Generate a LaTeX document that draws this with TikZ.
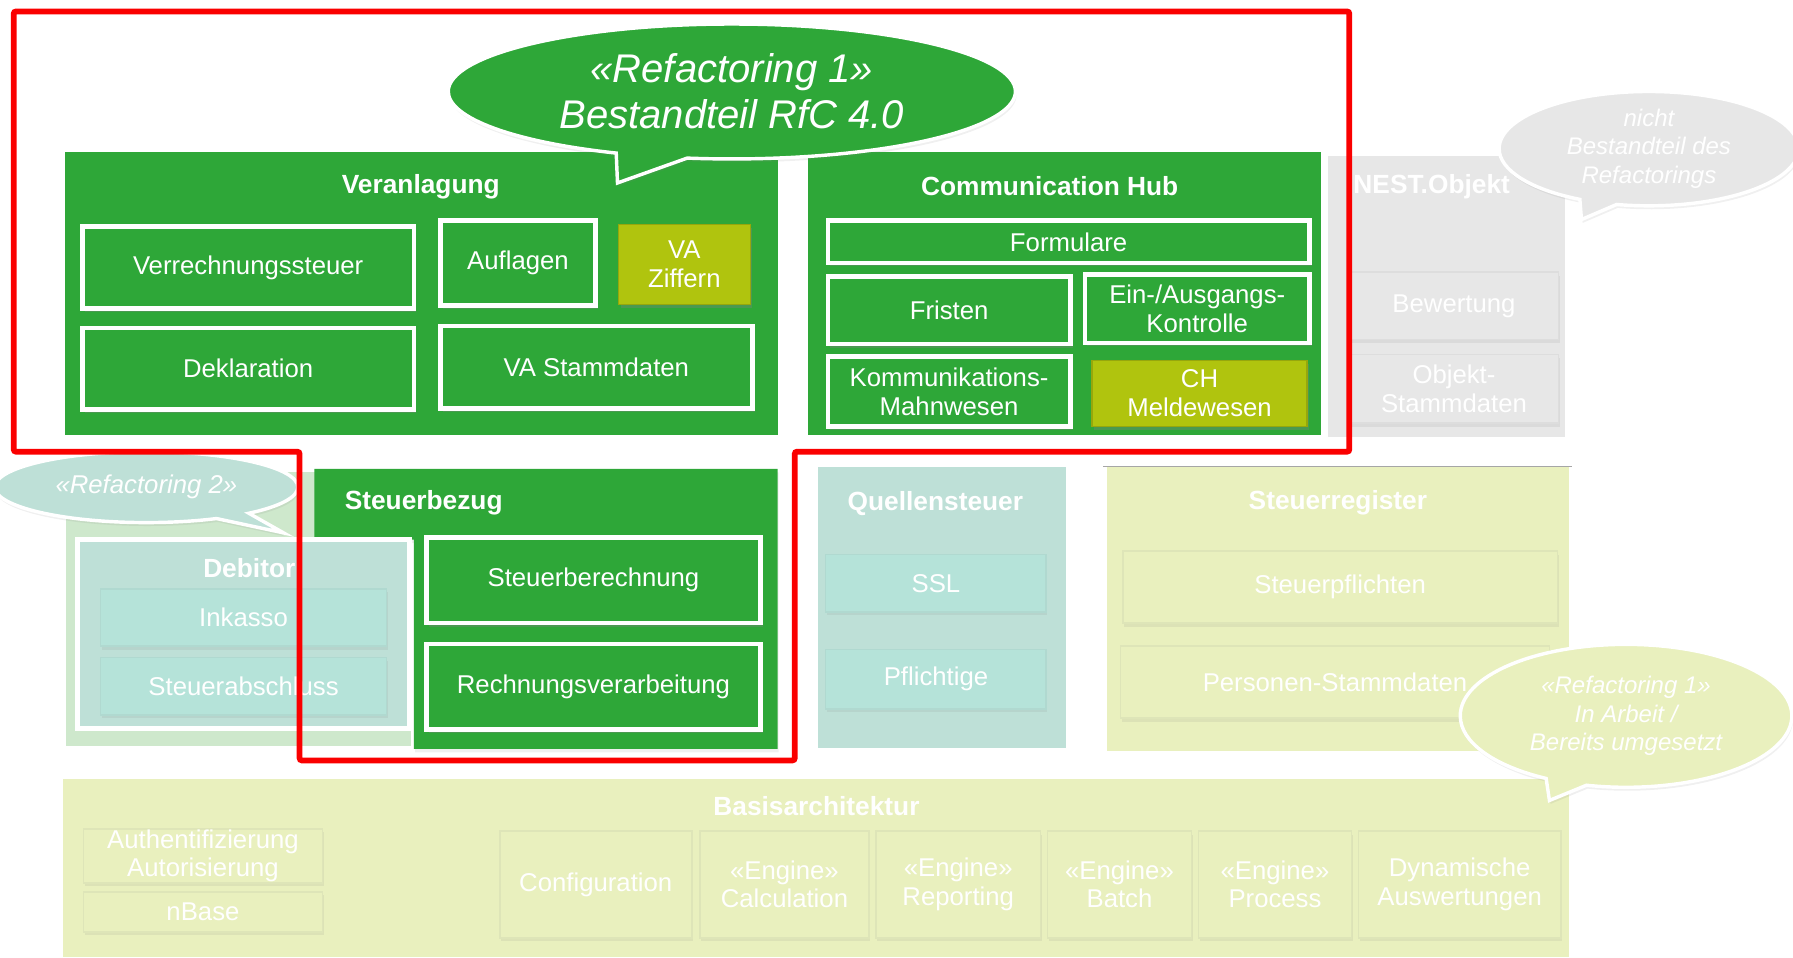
\documentclass[tikz,border=0pt]{standalone}
\usepackage{fontspec}
\setmainfont{Liberation Sans}
\usepackage{tikz}
\usetikzlibrary{shapes.callouts,shadows}

\definecolor{rfgreen}{RGB}{46,167,56}
\definecolor{rfolive}{RGB}{176,196,14}
\definecolor{rfteal}{RGB}{190,224,215}
\definecolor{rftealbox}{RGB}{181,227,217}
\definecolor{rfmint}{RGB}{206,232,204}
\definecolor{rfpale}{RGB}{233,240,190}
\definecolor{rfgrey}{RGB}{231,231,231}
\definecolor{rfred}{RGB}{250,0,0}

\tikzset{
  txt/.style={text=white, align=center, font=\fontsize{22.5}{25}\selectfont},
  ttl/.style={text=white, font=\fontsize{23}{25}\selectfont\bfseries},
  bubtxt/.style={text=white, align=center, font=\fontsize{21}{25}\selectfont\itshape},
  shade/.style={drop shadow={opacity=.35, shadow xshift=2pt, shadow yshift=-3pt}},
  softshade/.style={drop shadow={opacity=.12, shadow xshift=1pt, shadow yshift=-3pt}},
  panel/.style={fill=#1, draw=white, line width=6pt, softshade},
  module/.style={fill=rfgreen, draw=white, line width=4pt, shade},
  flag/.style={fill=rfolive, draw=rfolive!85!black, line width=1pt, shade},
  ghost/.style={fill=#1, draw=#1!90!gray, line width=1.5pt, softshade},
  bubble/.style={ellipse callout, fill=#1, draw=white, line width=3pt, inner sep=0pt, softshade},
}

\begin{document}
\begin{tikzpicture}[x=1pt,y=-1pt]
  \useasboundingbox (0,0) rectangle (1568,837);

  % NEST.Objekt (faded)
  \draw[panel=rfgrey] (1120,133) rectangle (1372,385);
  \node[ttl] (nest) at (1252,163) {NEST.Objekt};
  \draw[ghost=rfgrey] (1180,238) rectangle (1363,297) node(bewertung)[pos=.5,txt] {Bewertung};
  \draw[ghost=rfgrey] (1180,310) rectangle (1363,370) node(objstamm)[pos=.5,txt] {Objekt-\\Stammdaten};

  % Veranlagung
  \draw[panel=rfgreen] (54,130) rectangle (683,383);
  \node[ttl] (veranl) at (368,163) {Veranlagung};
  \draw[module] (72,198) rectangle (362,270) node(vst)[pos=.5,txt] {Verrechnungssteuer};
  \draw[module] (385,193) rectangle (521,267) node(auflagen)[pos=.5,txt] {Auflagen};
  \draw[flag] (541,196) rectangle (656,266) node(vaziff)[pos=.5,txt] {VA\\Ziffern};
  \draw[module] (72,287) rectangle (362,358) node(dekl)[pos=.5,txt] {Deklaration};
  \draw[module] (385,285) rectangle (658,357) node(vastamm)[pos=.5,txt] {VA Stammdaten};

  % Communication Hub
  \draw[panel=rfgreen] (704,130) rectangle (1158,383);
  \node[ttl] (chub) at (918,163) {Communication Hub};
  \draw[module] (724,193) rectangle (1145,230) node(formulare)[pos=.5,txt] {Formulare};
  \draw[module] (724,242) rectangle (936,301) node(fristen)[pos=.5,txt] {Fristen};
  \draw[module] (949,240) rectangle (1145,300) node(einaus)[pos=.5,txt] {Ein-/Ausgangs-\\Kontrolle};
  \draw[module] (724,312) rectangle (936,373) node(kommu)[pos=.5,txt] {Kommunikations-\\Mahnwesen};
  \draw[flag] (955,315) rectangle (1143,373) node(chmelde)[pos=.5,txt] {CH\\Meldewesen};

  % Debitor + Steuerbezug
  \draw[panel=rfmint] (55,410) rectangle (362,655);
  \fill[rfgreen, softshade] (275,410) -- (680,410) -- (680,655) -- (362,655) -- (362,472) -- (275,472) -- cycle;
  \node[ttl, anchor=west] (stbez) at (298,440) {Steuerbezug};
  \draw[fill=rfteal, draw=white, line width=4pt] (68,472) rectangle (358,637);
  \node[ttl] (debitor) at (218,497) {Debitor};
  \draw[ghost=rftealbox] (88,515) rectangle (338,565) node(inkasso)[pos=.5,txt] {Inkasso};
  \draw[ghost=rftealbox] (88,575) rectangle (338,625) node(stabschl)[pos=.5,txt] {Steuerabschluss};
  \draw[module] (373,470) rectangle (665,545) node(stber)[pos=.5,txt] {Steuerberechnung};
  \draw[module] (373,563) rectangle (665,638) node(rechver)[pos=.5,txt] {Rechnungsverarbeitung};

  % Quellensteuer
  \draw[panel=rfteal] (712,405) rectangle (935,657);
  \node[ttl] (quelle) at (818,440) {Quellensteuer};
  \draw[ghost=rftealbox] (722,485) rectangle (915,535) node(ssl)[pos=.5,txt] {SSL};
  \draw[ghost=rftealbox] (722,568) rectangle (915,620) node(pflicht)[pos=.5,txt] {Pflichtige};

  % Steuerregister
  \draw[panel=rfpale] (965,405) rectangle (1375,660);
  \draw[gray!70, line width=1.5pt] (965,408) -- (1375,408);
  \node[ttl] (streg) at (1170,440) {Steuerregister};
  \draw[ghost=rfpale] (982,482) rectangle (1362,545) node(stpfl)[pos=.5,txt] {Steuerpflichten};
  \draw[ghost=rfpale] (980,565) rectangle (1355,628) node(persst)[pos=.5,txt] {Personen-Stammdaten};

  % Basisarchitektur
  \draw[panel=rfpale] (52,678) rectangle (1375,840);
  \node[ttl] (basis) at (714,705) {Basisarchitektur};
  \draw[ghost=rfpale] (73,725) rectangle (282,772) node(auth)[pos=.5,txt] {Authentifizierung\\Autorisierung};
  \draw[ghost=rfpale] (73,780) rectangle (282,815) node(nbase)[pos=.5,txt] {nBase};
  \draw[ghost=rfpale] (437,727) rectangle (605,820) node(config)[pos=.5,txt] {Configuration};
  \draw[ghost=rfpale] (612,727) rectangle (760,820) node(engcalc)[pos=.5,txt] {«Engine»\\Calculation};
  \draw[ghost=rfpale] (766,727) rectangle (910,820) node(engrep)[pos=.5,txt] {«Engine»\\Reporting};
  \draw[ghost=rfpale] (916,727) rectangle (1042,820) node(engbatch)[pos=.5,txt] {«Engine»\\Batch};
  \draw[ghost=rfpale] (1048,727) rectangle (1182,820) node(engproc)[pos=.5,txt] {«Engine»\\Process};
  \draw[ghost=rfpale] (1188,727) rectangle (1365,820) node(dynaus)[pos=.5,txt] {Dynamische\\Auswertungen};

  % speech bubbles
  \node[bubble=rfgreen, minimum width=496, minimum height=118, callout absolute pointer={(540,160)},
        text=white, align=center, font=\fontsize{35}{40}\selectfont\itshape] (rf1) at (640,80) {«Refactoring 1»\\Bestandteil RfC 4.0};
  \node[bubble=rfgrey, minimum width=262, minimum height=100, callout absolute pointer={(1383,192)}, bubtxt] (nicht) at (1442,130) {nicht\\Bestandteil des\\Refactorings};
  \node[bubble=rfteal, minimum width=265, minimum height=62, callout absolute pointer={(248,466)}, bubtxt,
        font=\fontsize{22.5}{25}\selectfont\itshape] (rf2) at (128,426) {«Refactoring 2»};
  \node[bubble=rfpale, minimum width=290, minimum height=125, callout absolute pointer={(1355,700)}, bubtxt] (rf1arb) at (1422,626) {«Refactoring 1»\\In Arbeit /\\Bereits umgesetzt};

  % scope frame
  \draw[rfred, line width=5pt, rounded corners=2pt] (12,10) -- (1180,10) -- (1180,395) -- (695,395) -- (695,665) -- (262,665) -- (262,395) -- (12,395) -- cycle;
\end{tikzpicture}
\end{document}
